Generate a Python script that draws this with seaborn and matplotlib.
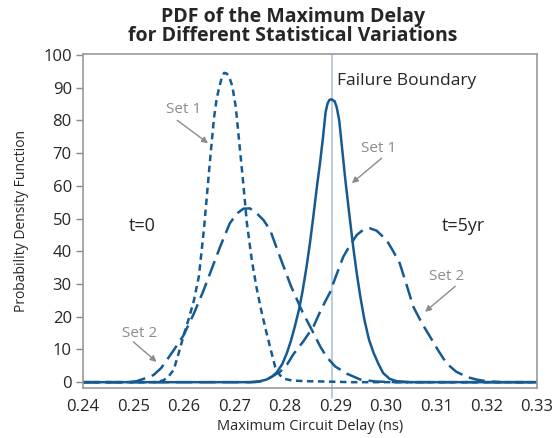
import pandas as pd
import matplotlib.pyplot as plt
import seaborn as sns

# t=0, Set 1 (short dash)
x_t0_set1 = [0.240, 0.254, 0.255, 0.256, 0.257, 0.258, 0.259, 0.260, 0.261, 0.262, 0.263,
             0.264, 0.265, 0.2655, 0.266, 0.2665, 0.267, 0.2675, 0.268, 0.2685, 0.2690,
             0.2696, 0.2703, 0.2710, 0.2717, 0.2725, 0.2735, 0.2744, 0.2754, 0.2764,
             0.2773, 0.2781, 0.2790, 0.2800, 0.2815, 0.2840, 0.2880, 0.2930, 0.330]
y_t0_set1 = [0, 0, 0.2, 0.6, 1.8, 3.8, 9, 14.5, 19.5, 25, 32.5,
             47, 64.5, 73, 81, 86.5, 90, 93, 94.5, 94.3, 93.2,
             90.5, 84, 73, 62, 48.6, 37, 29, 21.5, 15,
             9.5, 4.7, 2.2, 1.0, 0.5, 0.3, 0.2, 0, 0]

# t=0, Set 2 (long dash)
x_t0_set2 = [0.240, 0.249, 0.2506, 0.252, 0.254, 0.2555, 0.2566, 0.258, 0.2599, 0.262,
             0.2639, 0.2655, 0.2672, 0.2691, 0.2705, 0.2718, 0.2731, 0.2745, 0.2758,
             0.2771, 0.2790, 0.2812, 0.2835, 0.2857, 0.2870, 0.2883, 0.2900, 0.2923,
             0.2950, 0.2980, 0.302, 0.330]
y_t0_set2 = [0, 0, 0.3, 1.0, 2.2, 4.3, 6.7, 9.8, 14.2, 21,
             28, 34.5, 41.4, 48.5, 51.5, 53, 53.1, 51.5, 49.5,
             46.5, 38.5, 29.5, 21.5, 15, 11, 7.7, 4.8, 2.6,
             0.8, 0.2, 0, 0]

# t=5yr, Set 1 (solid)
x_t5_set1 = [0.240, 0.273, 0.2751, 0.2764, 0.2775, 0.2784, 0.2795, 0.2804, 0.2812, 0.2820,
             0.2828, 0.2835, 0.2843, 0.2850, 0.2857, 0.2864, 0.2870, 0.2876, 0.2881,
             0.2885, 0.2889, 0.2893, 0.2899, 0.2903, 0.2908, 0.2914, 0.2920, 0.2929,
             0.2936, 0.2943, 0.2950, 0.2958, 0.2967, 0.2976, 0.2986, 0.2995, 0.3008,
             0.3022, 0.305, 0.330]
y_t5_set1 = [0, 0, 0.3, 0.8, 1.7, 3, 5.5, 8.8, 12.5, 17,
             22, 27.5, 35, 42.5, 51, 60, 67, 75, 82.5,
             85.2, 86.3, 86.4, 85.8, 84, 80, 71, 62, 50,
             41, 33, 26, 19, 13, 9, 5.5, 2.8, 1.0,
             0.3, 0, 0]

# t=5yr, Set 2 (long dash)
x_t5_set2 = [0.240, 0.274, 0.2751, 0.2770, 0.2791, 0.2805, 0.2817, 0.2837, 0.2857, 0.2873,
             0.2890, 0.2903, 0.2916, 0.2930, 0.2943, 0.2956, 0.2969, 0.2982, 0.3002,
             0.3015, 0.3028, 0.3042, 0.3055, 0.3072, 0.3088, 0.3105, 0.3121, 0.3140,
             0.3161, 0.3180, 0.3200, 0.323, 0.330]
y_t5_set2 = [0, 0, 0.2, 1.3, 3.2, 5.5, 8.5, 12.5, 17, 22.5,
             27.5, 33, 38.3, 42, 45, 46.6, 47, 46.3, 43.4,
             40, 36.3, 29.5, 23, 18, 13.9, 9.5, 5.7, 3.2,
             1.6, 0.8, 0.3, 0, 0]

failure_boundary = 0.2893

blue = "#165a92"
grey = "#8c8c8c"

sns.set_style("white")
plt.rcParams["font.family"] = ["Open Sans", "DejaVu Sans"]

fig = plt.figure(figsize=(5.53, 4.38), dpi=100)
ax = fig.add_axes([0.150, 0.114, 0.821, 0.763])

short_dash = (0, (2.6, 1.8))
long_dash = (0, (6.5, 2.8))

curves = [
    (x_t0_set1, y_t0_set1, short_dash),
    (x_t0_set2, y_t0_set2, long_dash),
    (x_t5_set1, y_t5_set1, "-"),
    (x_t5_set2, y_t5_set2, long_dash),
]
for xs, ys, ls in curves:
    df = pd.DataFrame({"delay": xs, "pdf": ys})
    sns.lineplot(data=df, x="delay", y="pdf", ax=ax, color=blue, lw=1.8,
                 linestyle=ls, sort=False, estimator=None)

# failure boundary line (runs a bit below the frame)
ax.plot([failure_boundary, failure_boundary], [-4.8, 100.3], color="#a9bcd6",
        lw=1.1, zorder=0, clip_on=False)

ax.set_xlim(0.24, 0.33)
ax.set_ylim(-1.8, 100.3)
ax.set_xticks([0.24 + 0.01 * i for i in range(10)])
ax.set_xticklabels(["0.24", "0.25", "0.26", "0.27", "0.28", "0.29", "0.30", "0.31", "0.32", "0.33"])
ax.set_yticks(range(0, 101, 10))
ax.tick_params(axis="x", length=0, labelsize=12, pad=8)
ax.tick_params(axis="y", length=5, width=1, color="#888888", labelsize=12, direction="out", pad=3)
ax.yaxis.set_ticks_position("left")
for sp in ax.spines.values():
    sp.set_color("#999999")
    sp.set_linewidth(1.2)

ax.set_xlabel("Maximum Circuit Delay (ns)", fontsize=10.5, labelpad=3)
ax.set_ylabel("Probability Density Function", fontsize=10, labelpad=10)

fig.suptitle("PDF of the Maximum Delay\nfor Different Statistical Variations",
             x=0.53, y=0.985, fontsize=14, fontweight="bold", linespacing=0.95)

ax.text(0.2903, 92, "Failure Boundary", fontsize=12.5, va="center", ha="left")
ax.text(0.2518, 47.7, "t=0", fontsize=13, va="center", ha="center")
ax.text(0.3155, 47.7, "t=5yr", fontsize=13, va="center", ha="center")

arrow = dict(arrowstyle="-|>", color=grey, lw=1, mutation_scale=9, shrinkA=0, shrinkB=0)
ax.text(0.2600, 83.2, "Set 1", color=grey, fontsize=11, ha="center", va="center")
ax.annotate("", xy=(0.2648, 73), xytext=(0.2587, 80), arrowprops=arrow)
ax.text(0.2987, 71.3, "Set 1", color=grey, fontsize=11, ha="center", va="center")
ax.annotate("", xy=(0.2933, 60.8), xytext=(0.2992, 68.4), arrowprops=arrow)
ax.text(0.2513, 15, "Set 2", color=grey, fontsize=11, ha="center", va="center")
ax.annotate("", xy=(0.2546, 6.2), xytext=(0.2500, 12.3), arrowprops=arrow)
ax.text(0.3120, 32.4, "Set 2", color=grey, fontsize=11, ha="center", va="center")
ax.annotate("", xy=(0.3078, 21.5), xytext=(0.3138, 29.3), arrowprops=arrow)

plt.savefig("out.png", dpi=100)
plt.close()
